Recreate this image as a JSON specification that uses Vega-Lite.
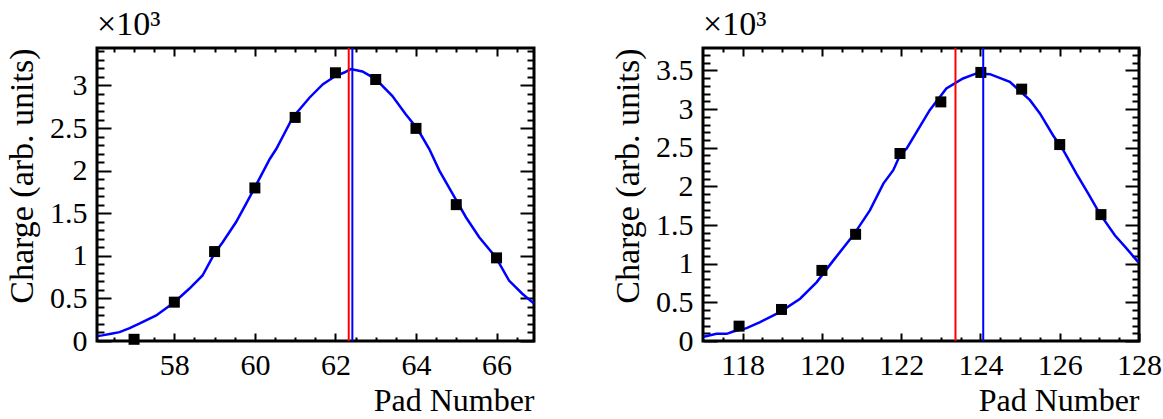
{
  "$schema": "https://vega.github.io/schema/vega-lite/v6.json",
  "padding": {"left": 3, "top": 6, "right": 5, "bottom": 2},
  "spacing": 72,
  "config": {
    "view": {"stroke": "black", "strokeWidth": 3},
    "font": "'Liberation Serif', 'Times New Roman', Times, serif",
    "axis": {"domain": false, "grid": false, "tickColor": "black", "tickWidth": 2, "labelColor": "black", "titleColor": "black", "labelFont": "'Liberation Serif', 'Times New Roman', Times, serif", "titleFont": "'Liberation Serif', 'Times New Roman', Times, serif", "labelFontSize": 30, "titleFontSize": 32, "titleFontWeight": "normal", "labelFlush": false, "labelOverlap": false},
    "title": {"font": "'Liberation Serif', 'Times New Roman', Times, serif", "fontSize": 34, "fontWeight": "normal", "anchor": "start", "frame": "group", "color": "black"}
  },
  "datasets": {
    "curveL": [
      {"pad": 56.1, "charge": 60}, {"pad": 56.21, "charge": 66}, {"pad": 56.43, "charge": 85}, {"pad": 56.64, "charge": 104}, {"pad": 56.89, "charge": 151}, {"pad": 57.13, "charge": 203}, {"pad": 57.55, "charge": 300}, {"pad": 58.0, "charge": 456}, {"pad": 58.37, "charge": 613}, {"pad": 58.7, "charge": 769}, {"pad": 59.0, "charge": 1030}, {"pad": 59.2, "charge": 1160}, {"pad": 59.53, "charge": 1394}, {"pad": 59.78, "charge": 1610}, {"pad": 60.0, "charge": 1804}, {"pad": 60.37, "charge": 2137}, {"pad": 60.53, "charge": 2254}, {"pad": 60.94, "charge": 2625}, {"pad": 61.36, "charge": 2859}, {"pad": 61.69, "charge": 3016}, {"pad": 62.01, "charge": 3114}, {"pad": 62.22, "charge": 3152}, {"pad": 62.38, "charge": 3192}, {"pad": 62.67, "charge": 3164}, {"pad": 63.0, "charge": 3075}, {"pad": 63.41, "charge": 2879}, {"pad": 63.74, "charge": 2665}, {"pad": 64.04, "charge": 2489}, {"pad": 64.33, "charge": 2254}, {"pad": 64.58, "charge": 2000}, {"pad": 64.91, "charge": 1727}, {"pad": 65.24, "charge": 1453}, {"pad": 65.57, "charge": 1218}, {"pad": 65.98, "charge": 984}, {"pad": 66.31, "charge": 710}, {"pad": 66.64, "charge": 555}, {"pad": 66.93, "charge": 440}
    ],
    "ptsL": [
      {"pad": 57, "charge": 20}, {"pad": 58, "charge": 456}, {"pad": 59, "charge": 1050}, {"pad": 60, "charge": 1797}, {"pad": 61, "charge": 2625}, {"pad": 62, "charge": 3149}, {"pad": 63, "charge": 3070}, {"pad": 64, "charge": 2496}, {"pad": 65, "charge": 1601}, {"pad": 66, "charge": 976}
    ],
    "rulesL": [
      {"pad": 62.33, "kind": "red"}, {"pad": 62.42, "kind": "blue"}
    ],
    "curveR": [
      {"pad": 117.02, "charge": 55}, {"pad": 117.34, "charge": 93}, {"pad": 117.6, "charge": 93}, {"pad": 117.76, "charge": 123}, {"pad": 118.1, "charge": 166}, {"pad": 118.44, "charge": 244}, {"pad": 118.94, "charge": 373}, {"pad": 119.45, "charge": 547}, {"pad": 119.87, "charge": 762}, {"pad": 120.29, "charge": 1043}, {"pad": 120.79, "charge": 1367}, {"pad": 121.21, "charge": 1690}, {"pad": 121.55, "charge": 2036}, {"pad": 121.8, "charge": 2209}, {"pad": 121.97, "charge": 2403}, {"pad": 122.14, "charge": 2490}, {"pad": 122.72, "charge": 2986}, {"pad": 123.14, "charge": 3267}, {"pad": 123.56, "charge": 3396}, {"pad": 123.9, "charge": 3461}, {"pad": 124.24, "charge": 3452}, {"pad": 124.74, "charge": 3352}, {"pad": 125.25, "charge": 3115}, {"pad": 125.5, "charge": 2943}, {"pad": 125.83, "charge": 2662}, {"pad": 126.09, "charge": 2468}, {"pad": 126.42, "charge": 2166}, {"pad": 126.72, "charge": 1907}, {"pad": 127.01, "charge": 1648}, {"pad": 127.39, "charge": 1367}, {"pad": 127.69, "charge": 1194}, {"pad": 127.98, "charge": 1021}
    ],
    "ptsR": [
      {"pad": 117.91, "charge": 192}, {"pad": 118.98, "charge": 408}, {"pad": 120.0, "charge": 913}, {"pad": 120.85, "charge": 1380}, {"pad": 121.97, "charge": 2425}, {"pad": 123.0, "charge": 3093}, {"pad": 124.01, "charge": 3474}, {"pad": 125.04, "charge": 3258}, {"pad": 126.0, "charge": 2541}, {"pad": 127.04, "charge": 1635}
    ],
    "rulesR": [
      {"pad": 123.37, "kind": "red"}, {"pad": 124.07, "kind": "blue"}
    ]
  },
  "hconcat": [
    {
      "width": 437,
      "height": 293,
      "title": {"text": "×10³", "offset": 5},
      "resolve": {"axis": {"x": "independent", "y": "independent"}},
      "layer": [
        {
          "data": {"name": "curveL"},
          "mark": {"type": "line", "color": "#0000ff", "strokeWidth": 2.5, "clip": true},
          "encoding": {
            "x": {"field": "pad", "type": "quantitative", "scale": {"domain": [56.08, 66.93], "nice": false, "zero": false},
              "axis": {"orient": "bottom", "values": [58, 60, 62, 64, 66], "tickSize": -8, "labelPadding": 17, "title": "Pad Number", "titleAnchor": "end", "titlePadding": 5}},
            "y": {"field": "charge", "type": "quantitative", "scale": {"domain": [0, 3440], "nice": false, "zero": false},
              "axis": {"orient": "left", "values": [0, 500, 1000, 1500, 2000, 2500, 3000], "tickSize": -14, "labelPadding": 24, "labelExpr": "datum.value / 1000", "title": "Charge (arb. units)", "titleFontSize": 34, "titleAnchor": "end", "titlePadding": 10}}
          }
        },
        {
          "data": {"name": "ptsL"},
          "mark": {"type": "point", "shape": "square", "filled": true, "color": "black", "size": 121, "opacity": 1},
          "encoding": {
            "x": {"field": "pad", "type": "quantitative",
              "axis": {"orient": "bottom", "values": [56.5, 57, 57.5, 58.5, 59, 59.5, 60.5, 61, 61.5, 62.5, 63, 63.5, 64.5, 65, 65.5, 66.5], "tickSize": -4, "labels": false, "title": null}},
            "y": {"field": "charge", "type": "quantitative",
              "axis": {"orient": "left", "values": [100, 200, 300, 400, 600, 700, 800, 900, 1100, 1200, 1300, 1400, 1600, 1700, 1800, 1900, 2100, 2200, 2300, 2400, 2600, 2700, 2800, 2900, 3100, 3200, 3300, 3400], "tickSize": -7, "labels": false, "title": null}}
          }
        },
        {
          "data": {"name": "ptsL"},
          "mark": {"type": "point", "opacity": 0},
          "encoding": {
            "x": {"field": "pad", "type": "quantitative",
              "axis": {"orient": "top", "values": [58, 60, 62, 64, 66], "tickSize": -8, "labels": false, "title": null}},
            "y": {"field": "charge", "type": "quantitative",
              "axis": {"orient": "right", "values": [0, 500, 1000, 1500, 2000, 2500, 3000], "tickSize": -14, "labels": false, "title": null}}
          }
        },
        {
          "data": {"name": "ptsL"},
          "mark": {"type": "point", "opacity": 0},
          "encoding": {
            "x": {"field": "pad", "type": "quantitative",
              "axis": {"orient": "top", "values": [56.5, 57, 57.5, 58.5, 59, 59.5, 60.5, 61, 61.5, 62.5, 63, 63.5, 64.5, 65, 65.5, 66.5], "tickSize": -4, "labels": false, "title": null}},
            "y": {"field": "charge", "type": "quantitative",
              "axis": {"orient": "right", "values": [100, 200, 300, 400, 600, 700, 800, 900, 1100, 1200, 1300, 1400, 1600, 1700, 1800, 1900, 2100, 2200, 2300, 2400, 2600, 2700, 2800, 2900, 3100, 3200, 3300, 3400], "tickSize": -7, "labels": false, "title": null}}
          }
        },
        {
          "data": {"name": "rulesL"},
          "mark": {"type": "rule", "strokeWidth": 2},
          "encoding": {
            "x": {"field": "pad", "type": "quantitative", "axis": null},
            "color": {"field": "kind", "type": "nominal", "scale": {"domain": ["red", "blue"], "range": ["#ff0000", "#0000ff"]}, "legend": null}
          }
        }
      ]
    },
    {
      "width": 436,
      "height": 293,
      "title": {"text": "×10³", "offset": 5},
      "resolve": {"axis": {"x": "independent", "y": "independent"}},
      "layer": [
        {
          "data": {"name": "curveR"},
          "mark": {"type": "line", "color": "#0000ff", "strokeWidth": 2.5, "clip": true},
          "encoding": {
            "x": {"field": "pad", "type": "quantitative", "scale": {"domain": [117, 128], "nice": false, "zero": false},
              "axis": {"orient": "bottom", "values": [118, 120, 122, 124, 126, 128], "tickSize": -8, "labelPadding": 17, "title": "Pad Number", "titleAnchor": "end", "titlePadding": 5}},
            "y": {"field": "charge", "type": "quantitative", "scale": {"domain": [0, 3790], "nice": false, "zero": false},
              "axis": {"orient": "left", "values": [0, 500, 1000, 1500, 2000, 2500, 3000, 3500], "tickSize": -14, "labelPadding": 24, "labelExpr": "datum.value / 1000", "title": "Charge (arb. units)", "titleFontSize": 34, "titleAnchor": "end", "titlePadding": 10}}
          }
        },
        {
          "data": {"name": "ptsR"},
          "mark": {"type": "point", "shape": "square", "filled": true, "color": "black", "size": 121, "opacity": 1},
          "encoding": {
            "x": {"field": "pad", "type": "quantitative",
              "axis": {"orient": "bottom", "values": [117.5, 118.5, 119, 119.5, 120.5, 121, 121.5, 122.5, 123, 123.5, 124.5, 125, 125.5, 126.5, 127, 127.5], "tickSize": -4, "labels": false, "title": null}},
            "y": {"field": "charge", "type": "quantitative",
              "axis": {"orient": "left", "values": [100, 200, 300, 400, 600, 700, 800, 900, 1100, 1200, 1300, 1400, 1600, 1700, 1800, 1900, 2100, 2200, 2300, 2400, 2600, 2700, 2800, 2900, 3100, 3200, 3300, 3400, 3600, 3700], "tickSize": -7, "labels": false, "title": null}}
          }
        },
        {
          "data": {"name": "ptsR"},
          "mark": {"type": "point", "opacity": 0},
          "encoding": {
            "x": {"field": "pad", "type": "quantitative",
              "axis": {"orient": "top", "values": [118, 120, 122, 124, 126, 128], "tickSize": -8, "labels": false, "title": null}},
            "y": {"field": "charge", "type": "quantitative",
              "axis": {"orient": "right", "values": [0, 500, 1000, 1500, 2000, 2500, 3000, 3500], "tickSize": -14, "labels": false, "title": null}}
          }
        },
        {
          "data": {"name": "ptsR"},
          "mark": {"type": "point", "opacity": 0},
          "encoding": {
            "x": {"field": "pad", "type": "quantitative",
              "axis": {"orient": "top", "values": [117.5, 118.5, 119, 119.5, 120.5, 121, 121.5, 122.5, 123, 123.5, 124.5, 125, 125.5, 126.5, 127, 127.5], "tickSize": -4, "labels": false, "title": null}},
            "y": {"field": "charge", "type": "quantitative",
              "axis": {"orient": "right", "values": [100, 200, 300, 400, 600, 700, 800, 900, 1100, 1200, 1300, 1400, 1600, 1700, 1800, 1900, 2100, 2200, 2300, 2400, 2600, 2700, 2800, 2900, 3100, 3200, 3300, 3400, 3600, 3700], "tickSize": -7, "labels": false, "title": null}}
          }
        },
        {
          "data": {"name": "rulesR"},
          "mark": {"type": "rule", "strokeWidth": 2},
          "encoding": {
            "x": {"field": "pad", "type": "quantitative", "axis": null},
            "color": {"field": "kind", "type": "nominal", "scale": {"domain": ["red", "blue"], "range": ["#ff0000", "#0000ff"]}, "legend": null}
          }
        }
      ]
    }
  ]
}
